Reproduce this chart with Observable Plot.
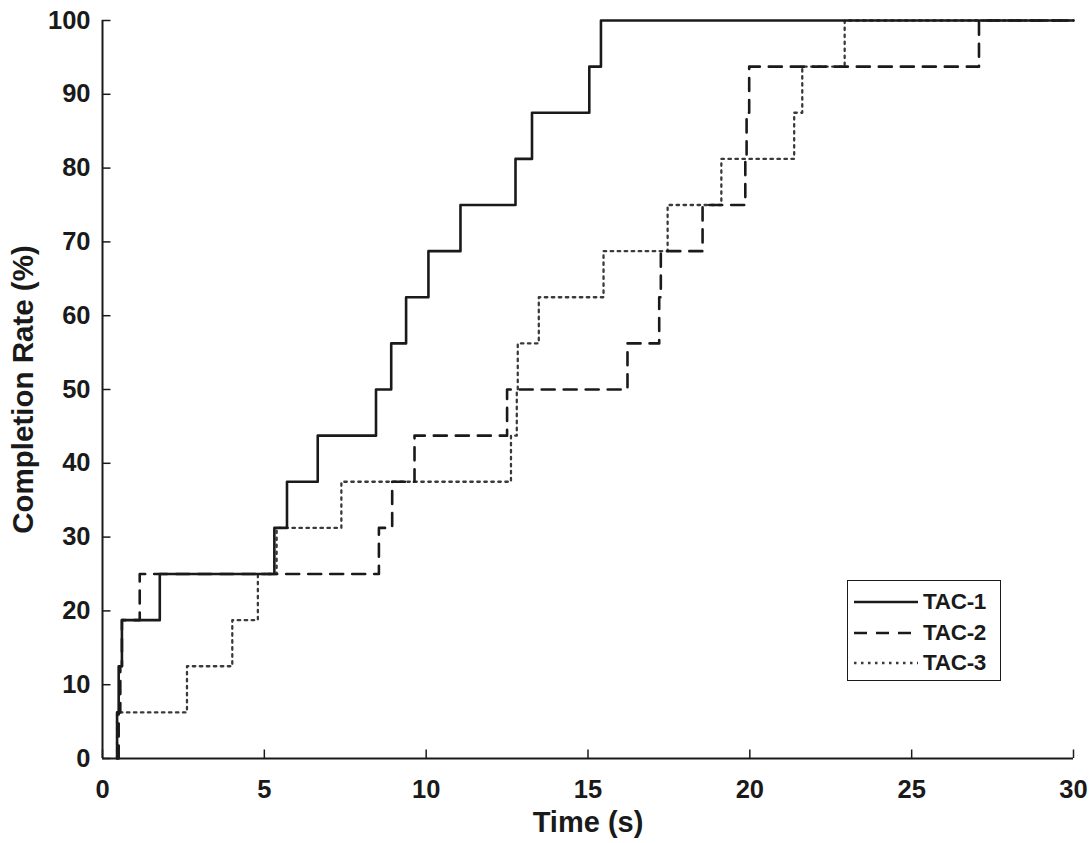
<!DOCTYPE html>
<html>
<head>
<meta charset="utf-8">
<script src="https://cdn.jsdelivr.net/npm/d3@7"></script>
<script src="https://cdn.jsdelivr.net/npm/@observablehq/plot@0.6"></script>
<style>
  html, body { margin: 0; padding: 0; background: #fff; }
  #wrap { position: relative; width: 1092px; height: 843px; font-family: "Liberation Sans", Arial, sans-serif; }
  #legend {
    position: absolute; left: 847px; top: 580px; width: 154px; height: 101px;
    box-sizing: border-box; border: 1.5px solid #1a1a1a; background: #fff;
    font-weight: bold; font-size: 22.5px; color: #1a1a1a;
  }
  #legend .row { position: absolute; left: 6px; height: 30px; display: flex; align-items: center; }
  #legend svg { display: block; }
  #legend span { margin-left: 5px; letter-spacing: -0.3px; }
</style>
</head>
<body>
<div id="wrap"><div id="chart"></div><div id="legend"></div></div>
<script>
// Data
const rates = [6.25, 12.5, 18.75, 25, 31.25, 37.5, 43.75, 50, 56.25, 62.5, 68.75, 75, 81.25, 87.5, 93.75, 100];
const tac1Times = [0.45, 0.5, 0.6, 1.77, 5.31, 5.7, 6.65, 8.45, 8.92, 9.38, 10.07, 11.06, 12.76, 13.27, 15.04, 15.4];
const tac2Times = [0.5, 0.55, 0.6, 1.15, 8.54, 8.95, 9.64, 12.5, 16.22, 17.2, 17.25, 18.54, 19.86, 19.9, 19.98, 27.08];
const tac3Times = [0.45, 2.61, 4.01, 4.8, 5.38, 7.38, 12.62, 12.8, 12.83, 13.48, 15.48, 17.46, 19.12, 21.37, 21.62, 22.93];
const seriesNames = ["TAC-1", "TAC-2", "TAC-3"];
const xTicks = [0, 5, 10, 15, 20, 25, 30];
const yTicks = [0, 10, 20, 30, 40, 50, 60, 70, 80, 90, 100];
const xMax = 30;
const xLabel = "Time (s)";
const yLabel = "Completion Rate (%)";

function build(name, times) {
  const pts = [{series: name, t: times[0], v: 0}];
  times.forEach((t, i) => pts.push({series: name, t, v: rates[i]}));
  pts.push({series: name, t: xMax, v: rates[rates.length - 1]});
  return pts;
}
const d1 = build(seriesNames[0], tac1Times);
const d2 = build(seriesNames[1], tac2Times);
const d3s = build(seriesNames[2], tac3Times);

const ink = "#1a1a1a";
const styles = [
  {stroke: ink, strokeWidth: 2.6, strokeDasharray: null},
  {stroke: ink, strokeWidth: 2.6, strokeDasharray: "13,9"},
  {stroke: "#3a3a3a", strokeWidth: 2.3, strokeDasharray: "2.5,4.5"}
];

const chart = Plot.plot({
  width: 1092,
  height: 843,
  marginLeft: 102,
  marginRight: 19,
  marginTop: 20,
  marginBottom: 85,
  style: {fontFamily: "'Liberation Sans', Arial, sans-serif", fontWeight: "bold", color: ink, background: "#fff"},
  x: {domain: [0, xMax]},
  y: {domain: [0, 100]},
  marks: [
    Plot.line(d3s, {x: "t", y: "v", curve: "step-after", ...styles[2]}),
    Plot.line(d2, {x: "t", y: "v", curve: "step-after", ...styles[1]}),
    Plot.line(d1, {x: "t", y: "v", curve: "step-after", ...styles[0]}),
    Plot.ruleY([0], {stroke: ink, strokeWidth: 2}),
    Plot.ruleX([0], {stroke: ink, strokeWidth: 2}),
    Plot.axisX(xTicks, {tickSize: -8.5, tickPadding: 29.5, fontSize: 25.5, fontWeight: "bold", stroke: ink, strokeWidth: 1.5, label: null}),
    Plot.axisY(yTicks, {tickSize: -8.5, tickPadding: 20.5, fontSize: 25.5, fontWeight: "bold", stroke: ink, strokeWidth: 1.5, label: null}),
    Plot.text([xLabel], {frameAnchor: "bottom", dy: 53, lineAnchor: "top", textAnchor: "middle", fontSize: 29, fontWeight: "bold", fill: ink}),
    Plot.text([yLabel], {frameAnchor: "left", dx: -79, rotate: -90, lineAnchor: "middle", textAnchor: "middle", fontSize: 29.5, fontWeight: "bold", fill: ink})
  ]
});
document.getElementById("chart").appendChild(chart);

// Legend
const legend = document.getElementById("legend");
const rowTops = [6, 37, 67];
seriesNames.forEach((name, i) => {
  const row = document.createElement("div");
  row.className = "row";
  row.style.top = rowTops[i] + "px";
  const s = styles[i];
  row.innerHTML = `<svg width="64" height="10"><line x1="0" y1="5" x2="64" y2="5" stroke="${s.stroke}" stroke-width="${s.strokeWidth}" ${s.strokeDasharray ? `stroke-dasharray="${s.strokeDasharray}"` : ""}/></svg><span>${name}</span>`;
  legend.appendChild(row);
});
</script>
</body>
</html>
